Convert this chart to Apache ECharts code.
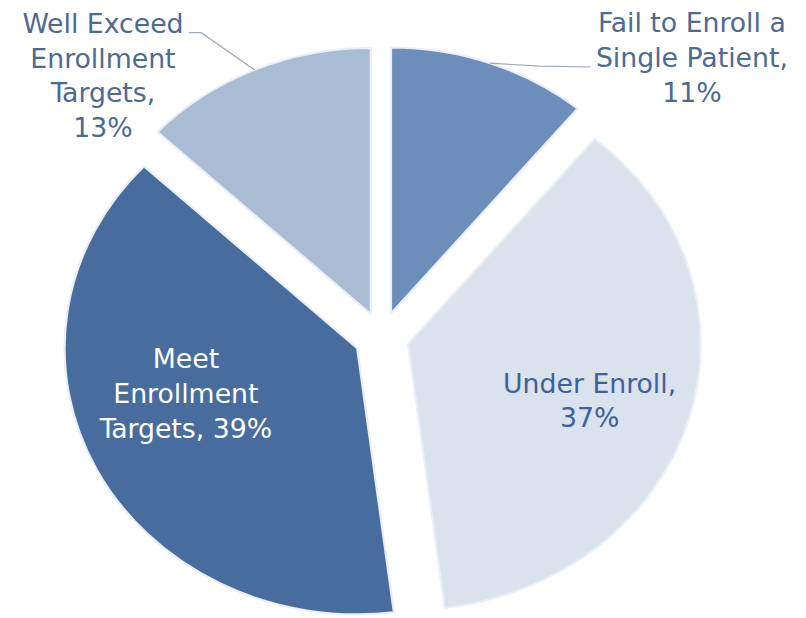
<!DOCTYPE html>
<html><head><meta charset="utf-8">
<script src="https://cdn.jsdelivr.net/npm/echarts@6/dist/echarts.min.js"></script>
<style>
html,body{margin:0;padding:0;background:#fff;overflow:hidden;}
#wrap{width:806px;height:618px;overflow:hidden;position:relative;}
#chart{width:733px;height:618px;transform:scaleX(1.1);transform-origin:0 0;}
</style></head><body>
<div id="wrap"><div id="chart"></div></div>
<script>
// ---- data ----
const categories = ['Fail to Enroll a Single Patient', 'Under Enroll', 'Meet Enrollment Targets', 'Well Exceed Enrollment Targets'];
const labelNames = ['Fail to Enroll a\nSingle Patient,', 'Under Enroll,', 'Meet\nEnrollment\nTargets,', 'Well Exceed\nEnrollment\nTargets,'];
const labelJoin = ['\n', '\n', ' ', '\n'];
const values = [11, 37, 39, 13];

// ---- styles / layout ----
const colors = ['#6d8dba', '#d9e2ed', '#486c9e', '#aabbd4'];
const labelColors = ['#4d6a93', '#3f6196', '#ffffff', '#4d6a93'];
const labelPositions = ['outside', 'inside', 'inside', 'outside'];
const labelCenters = [[629, 58], [536, 401], [169, 394], [93.6, 76]];
const CENTER = [347, 337];
const RADIUS = 266;
const OFFSET = 25;
const FONT = "'DejaVu Sans Condensed', 'DejaVu Sans', sans-serif";
const FONT_SIZE = 27;
const LINE_H = 34.7;

const total = values.reduce((a, b) => a + b, 0);
function anchorFor(i) {
  let acc = 0;
  for (let k = 0; k < i; k++) acc += values[k];
  const mid = (acc + values[i] / 2) / total * 2 * Math.PI;
  const r = RADIUS + OFFSET;
  return [CENTER[0] + r * Math.sin(mid), CENTER[1] - r * Math.cos(mid)];
}

const chart = echarts.init(document.getElementById('chart'), null, { renderer: 'svg' });

// exploded visible slices
const sliceData = categories.map((c, i) => ({
  name: c,
  value: values[i],
  selected: true,
  itemStyle: { color: colors[i] }
}));

// label carrier (transparent, not exploded)
const labelData = categories.map((c, i) => ({
  name: c,
  value: values[i],
  label: {
    position: labelPositions[i],
    color: labelColors[i],
    formatter: () => labelNames[i] + labelJoin[i] + values[i] + '%'
  },
  labelLine: { show: labelPositions[i] === 'outside' }
}));

chart.setOption({
  animation: false,
  backgroundColor: '#ffffff',
  series: [{
    type: 'pie',
    z: 2,
    center: CENTER,
    radius: RADIUS,
    startAngle: 90,
    clockwise: true,
    selectedMode: 'multiple',
    selectedOffset: OFFSET,
    silent: true,
    itemStyle: { borderColor: '#e9eff7', borderWidth: 2 },
    select: { itemStyle: { borderColor: '#e9eff7', borderWidth: 2 } },
    emphasis: { disabled: true },
    label: { show: false },
    labelLine: { show: false },
    data: sliceData
  }, {
    type: 'pie',
    z: 3,
    center: CENTER,
    radius: RADIUS,
    startAngle: 90,
    clockwise: true,
    silent: true,
    avoidLabelOverlap: false,
    itemStyle: { color: 'rgba(0,0,0,0)', borderWidth: 0 },
    emphasis: { disabled: true },
    label: {
      show: true,
      fontFamily: FONT,
      fontSize: FONT_SIZE,
      lineHeight: LINE_H,
      align: 'center'
    },
    labelLine: { lineStyle: { color: '#9ea8b6', width: 1.2 } },
    labelLayout: function (p) {
      const i = p.dataIndex;
      const c = labelCenters[i];
      const res = { x: c[0], y: c[1], align: 'center', verticalAlign: 'middle', hideOverlap: false, moveOverlap: false };
      const w = p.labelRect.width, h = p.labelRect.height;
      const a = anchorFor(i);
      if (i === 3) {
        const end = [c[0] + w / 2 + 5, c[1] - h / 2 + LINE_H * 0.75];
        res.labelLinePoints = [a, [end[0] + 11, end[1]], end];
      } else if (i === 0) {
        const end = [c[0] - w / 2 - 5, c[1] + 9];
        res.labelLinePoints = [a, [(a[0] + end[0]) / 2, (a[1] + end[1]) / 2 + 1], end];
      }
      return res;
    },
    data: labelData
  }]
});
</script>
</body></html>
